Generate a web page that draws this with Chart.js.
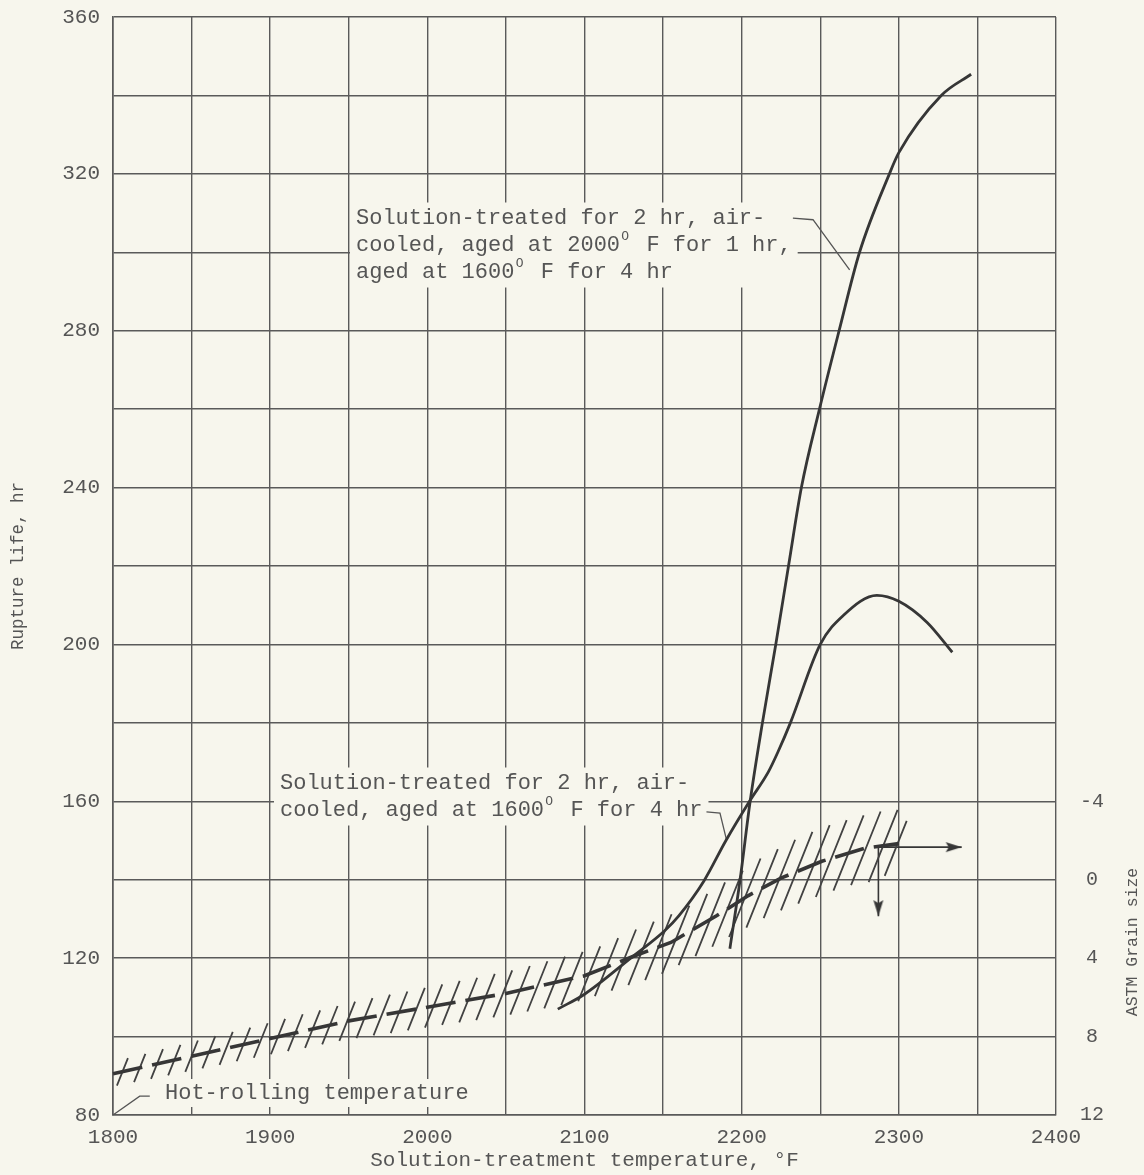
<!DOCTYPE html>
<html>
<head>
<meta charset="utf-8">
<script src="https://cdn.jsdelivr.net/npm/chart.js@4.4.0/dist/chart.umd.min.js"></script>
<style>
	html, body { margin: 0; padding: 0; background: #f7f6ed; }
	#chart-parent { width: 1144px; height: 1175px; }
</style>
</head>
<body>
<div id="chart-parent"><canvas id="chart" width="1144" height="1175"></canvas></div>
<script>
// aged at 2000 F for 1 hr + 1600 F for 4 hr
var agedTwiceTemp = [2192.5, 2199, 2205.4, 2213.2, 2221.7, 2229.8, 2238, 2249.5, 2262, 2275, 2294, 2300, 2327, 2346];
var agedTwiceLife = [122.4, 140, 160, 180, 200, 220, 240, 260, 280, 300, 320, 325.4, 340, 345.4];

// aged at 1600 F for 4 hr only
var agedOnceTemp = [2083, 2100, 2130, 2151, 2160, 2176, 2190, 2205, 2217, 2223, 2231, 2250, 2265, 2286, 2300, 2318, 2334];
var agedOnceLife = [107, 110.8, 120.2, 127, 130.8, 139.7, 150, 160, 167.5, 172.5, 180, 200, 207.5, 212.5, 211, 205.6, 198];

// grain size band (read on the rupture-life scale)
var grainTemp = [1800, 1850, 1900, 1950, 2000, 2050, 2100, 2130, 2155, 2184, 2204, 2225, 2251, 2278, 2300];
var grainMid = [90.5, 95, 99.5, 104, 107.5, 111, 115.5, 120.3, 124, 130.8, 135.9, 140.4, 144.7, 148, 149.2];
var hatchTemp = [1806, 1817, 1828, 1839, 1850, 1861, 1872, 1883, 1894, 1905, 1916, 1927, 1938, 1949, 1960, 1971, 1982, 1993, 2004, 2015, 2026, 2037, 2048, 2059, 2070, 2081, 2092, 2103, 2114, 2125, 2136, 2147, 2158, 2169, 2180, 2191, 2202, 2213, 2224, 2235, 2246, 2257, 2268, 2279, 2290, 2298];
var hatchLow = [87.5, 88.4, 89.2, 90.1, 91, 91.9, 92.8, 93.7, 94.6, 95.5, 96.3, 97.1, 98, 98.9, 99.6, 100.3, 100.9, 101.6, 102.3, 103, 103.6, 104.2, 104.9, 105.6, 106.4, 107.2, 108, 109, 110.3, 111.7, 113.1, 114.4, 116, 118.2, 120.5, 122.9, 125.4, 127.8, 130.2, 132.2, 133.9, 135.6, 137.2, 138.6, 139.4, 141];
var hatchHigh = [94.5, 95.6, 96.8, 97.9, 99, 100.1, 101.2, 102.3, 103.4, 104.5, 105.7, 106.7, 107.8, 108.9, 109.8, 110.7, 111.5, 112.4, 113.3, 114.2, 115, 116, 116.9, 118, 119.2, 120.4, 121.6, 123, 125.1, 127.3, 129.3, 131.2, 133.4, 136.4, 139.3, 142.3, 145.4, 147.8, 150.2, 152.2, 153.9, 155.2, 156.4, 157.4, 157.8, 155];

// arrows at the end of the band
var arrowRightTemp = [2288, 2340];
var arrowRightLife = [148.3, 148.3];
var arrowDownTemp = [2287, 2287];
var arrowDownLife = [148.5, 130.7];

// leader lines of the notes
var leaderTwiceTemp = [2232.6, 2245.4, 2268.7];
var leaderTwiceLife = [308.7, 308.3, 295.5];
var leaderOnceTemp = [2177.6, 2186.2, 2190.4];
var leaderOnceLife = [157.3, 157, 150.1];
var leaderRollTemp = [1823.4, 1817, 1800];
var leaderRollLife = [84.8, 84.8, 80];

var grainTicks = [-4, 0, 4, 8, 12];

var paper = '#f7f6ed';
var ink = '#363636';
var textInk = '#555555';
var gridInk = '#5a5a5a';
var mono = "'Liberation Mono', 'DejaVu Sans Mono', monospace";

function toPoints(xs, ys) {
	var out = [];
	for (var i = 0; i < xs.length; i++)
		out.push({x: xs[i], y: ys[i]});
	return out;
}

function hatchPoints() {
	var out = [];
	for (var i = 0; i < hatchTemp.length; i++) {
		var half = (hatchHigh[i] - hatchLow[i]) / 2;
		out.push({x: hatchTemp[i] - half, y: hatchLow[i]});
		out.push({x: hatchTemp[i] + half, y: hatchHigh[i]});
		out.push({x: hatchTemp[i], y: null});
	}
	return out;
}

function arrowHead() {
	var c = document.createElement('canvas');
	c.width = 12;
	c.height = 40;
	var g = c.getContext('2d');
	g.fillStyle = ink;
	g.beginPath();
	g.moveTo(6, 20);
	g.lineTo(11, 36);
	g.lineTo(6, 33);
	g.lineTo(1, 36);
	g.closePath();
	g.fill();
	return c;
}

function lineSet(xs, ys, width, extra) {
	var ds = {
		data: toPoints(xs, ys),
		borderColor: ink,
		borderWidth: width,
		pointRadius: 0,
		fill: false
	};
	for (var k in extra)
		ds[k] = extra[k];
	return ds;
}

// one line of typewriter text, the degree sign set as a raised small O in its own cell
function typeLine(ctx, text, x, y, size) {
	ctx.font = size + 'px ' + mono;
	var cell = ctx.measureText('M').width;
	var parts = text.split('\u00B0');
	for (var i = 0; i < parts.length; i++) {
		ctx.font = size + 'px ' + mono;
		ctx.fillText(parts[i], x, y);
		x += parts[i].length * cell;
		if (i < parts.length - 1) {
			ctx.font = Math.round(size * 0.6) + 'px ' + mono;
			ctx.fillText('O', x + cell * 0.1, y - size * 0.4);
			x += cell;
		}
	}
}

function note(ctx, lines, x, y, step, size) {
	ctx.save();
	ctx.textBaseline = 'middle';
	ctx.font = size + 'px ' + mono;
	var cell = ctx.measureText('M').width;
	var n = 0;
	for (var i = 0; i < lines.length; i++)
		n = Math.max(n, lines[i].length);
	ctx.fillStyle = paper;
	ctx.fillRect(x - 6, y - step / 2 - 2, n * cell + 12, step * lines.length + 4);
	ctx.fillStyle = textInk;
	for (var j = 0; j < lines.length; j++)
		typeLine(ctx, lines[j], x, y + j * step, size);
	ctx.restore();
}

var notesPlugin = {
	id: 'notes',
	beforeDraw: function(chart) {
		var ctx = chart.ctx;
		ctx.save();
		ctx.fillStyle = paper;
		ctx.fillRect(0, 0, chart.width, chart.height);
		ctx.restore();
	},
	beforeDatasetsDraw: function(chart) {
		var ctx = chart.ctx;
		note(ctx, ['Solution-treated for 2 hr, air-', 'cooled, aged at 2000\u00B0 F for 1 hr,', 'aged at 1600\u00B0 F for 4 hr'], 356, 218, 27, 22);
		note(ctx, ['Solution-treated for 2 hr, air-', 'cooled, aged at 1600\u00B0 F for 4 hr'], 280, 783, 27, 22);
		note(ctx, ['Hot-rolling temperature'], 165, 1093, 24, 22);
	},
	afterDraw: function(chart) {
		var ctx = chart.ctx;
		ctx.save();
		ctx.translate(1133, 942);
		ctx.rotate(-Math.PI / 2);
		ctx.textAlign = 'center';
		ctx.textBaseline = 'middle';
		ctx.fillStyle = textInk;
		ctx.font = '16.5px ' + mono;
		ctx.fillText('ASTM Grain size', 0, 0);
		ctx.restore();
	}
};

function fixWidth(w) {
	return function(scale) {
		scale.width = w;
		scale.paddingTop = 0;
		scale.paddingBottom = 0;
	};
}

function createChart() {
	var head = arrowHead();
	new Chart(document.getElementById('chart'), {
		type: 'line',
		data: {
			datasets: [
				lineSet(agedTwiceTemp, agedTwiceLife, 2.8, {cubicInterpolationMode: 'monotone'}),
				lineSet(agedOnceTemp, agedOnceLife, 2.8, {cubicInterpolationMode: 'monotone'}),
				lineSet(grainTemp, grainMid, 3.6, {borderDash: [30, 10]}),
				{
					data: hatchPoints(),
					borderColor: '#424242',
					borderWidth: 1.8,
					pointRadius: 0,
					spanGaps: false
				},
				lineSet(arrowRightTemp, arrowRightLife, 1.6, {pointRadius: [0, 10], pointStyle: head, rotation: 90}),
				lineSet(arrowDownTemp, arrowDownLife, 1.6, {pointRadius: [0, 10], pointStyle: head, rotation: 180}),
				lineSet(leaderTwiceTemp, leaderTwiceLife, 1.3, {borderColor: '#555'}),
				lineSet(leaderOnceTemp, leaderOnceLife, 1.3, {borderColor: '#555'}),
				lineSet(leaderRollTemp, leaderRollLife, 1.3, {borderColor: '#555'})
			]
		},
		options: {
			responsive: false,
			animation: false,
			clip: false,
			layout: {padding: {top: 17, left: 0, right: 0, bottom: 0}},
			plugins: {
				legend: {display: false},
				tooltip: {enabled: false}
			},
			scales: {
				x: {
					type: 'linear',
					min: 1800,
					max: 2400,
					afterFit: function(scale) { scale.height = 60; },
					grid: {color: gridInk, lineWidth: 1.4, drawTicks: false},
					border: {color: gridInk, width: 1.6},
					ticks: {
						stepSize: 50,
						autoSkip: false,
						maxRotation: 0,
						padding: 10,
						color: textInk,
						font: {family: mono, size: 21},
						callback: function(v) { return v % 100 === 0 ? String(v) : ''; }
					},
					title: {
						display: true,
						text: 'Solution-treatment temperature, \u00B0F',
						color: textInk,
						font: {family: mono, size: 21},
						padding: {bottom: 2}
					}
				},
				y: {
					type: 'linear',
					min: 80,
					max: 360,
					afterFit: fixWidth(113),
					grid: {color: gridInk, lineWidth: 1.4, drawTicks: false},
					border: {color: gridInk, width: 1.6},
					ticks: {
						stepSize: 20,
						autoSkip: false,
						padding: 13,
						color: textInk,
						font: {family: mono, size: 21},
						callback: function(v) { return v % 40 === 0 ? String(v) : ''; }
					},
					title: {
						display: true,
						text: 'Rupture life, hr',
						color: textInk,
						font: {family: mono, size: 17.5},
						padding: {top: 8}
					}
				},
				grain: {
					type: 'linear',
					position: 'right',
					min: -44,
					max: 12,
					reverse: true,
					afterFit: fixWidth(88),
					afterBuildTicks: function(scale) {
						scale.ticks = grainTicks.map(function(v) { return {value: v}; });
					},
					grid: {display: false},
					border: {display: false},
					ticks: {
						padding: 16,
						crossAlign: 'center',
						color: textInk,
						font: {family: mono, size: 20}
					}
				}
			}
		},
		plugins: [notesPlugin]
	});
}

createChart();
</script>
</body>
</html>
